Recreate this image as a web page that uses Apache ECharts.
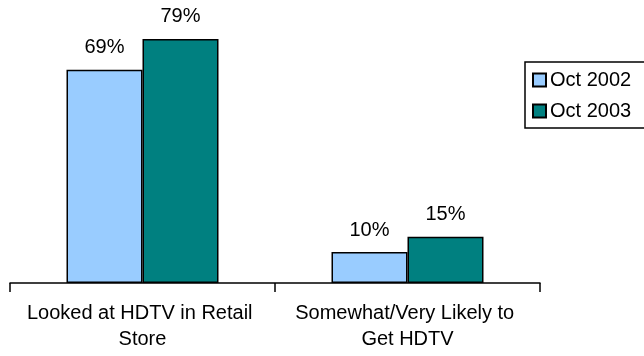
<!DOCTYPE html>
<html><head><meta charset="utf-8">
<script src="https://cdn.jsdelivr.net/npm/echarts@6/dist/echarts.min.js"></script>
<style>html,body{margin:0;padding:0;background:#fff}#c{width:644px;height:356px}</style>
</head><body><div id="c"></div>
<script>
var categories = ["Looked at HDTV in Retail Store", "Somewhat/Very Likely to Get HDTV"];
var seriesNames = ["Oct 2002", "Oct 2003"];
var oct2002 = [69, 10];
var oct2003 = [79, 15];
var colors = ["#99CCFF", "#008080"];

var FONT = "'Liberation Sans', Arial, sans-serif";
var chart = echarts.init(document.getElementById('c'));
var label = {show: true, position: 'top', distance: 12, formatter: '{c}%', color: '#000', fontSize: 20, fontFamily: FONT};
chart.setOption({
  animation: false,
  textStyle: {fontFamily: FONT},
  grid: {left: 10, right: 104, top: 5, bottom: 73},
  legend: {
    orient: 'vertical', left: 525, top: 62,
    data: seriesNames,
    icon: 'rect', itemWidth: 13, itemHeight: 13, itemGap: 11,
    padding: [8, 40, 7, 7],
    borderColor: '#000', borderWidth: 1.5,
    textStyle: {fontSize: 20, color: '#000', fontFamily: FONT, padding: [0, 0, 0, -1]}
  },
  xAxis: {
    type: 'category', data: categories,
    axisLine: {lineStyle: {color: '#000', width: 1.5}},
    axisTick: {show: true, length: 9, lineStyle: {color: '#000', width: 1.5}},
    axisLabel: {fontSize: 20, color: '#000', fontFamily: FONT, margin: 17, lineHeight: 26, width: 250, overflow: 'break', interval: 0}
  },
  yAxis: {type: 'value', min: 0, max: 90, show: false, splitLine: {show: false}},
  series: [
    {name: seriesNames[0], type: 'bar', data: oct2002, barWidth: 76, barGap: '0%',
     itemStyle: {color: colors[0], borderColor: '#000', borderWidth: 1.5}, label: label},
    {name: seriesNames[1], type: 'bar', data: oct2003, barWidth: 76, barGap: '0%',
     itemStyle: {color: colors[1], borderColor: '#000', borderWidth: 1.5}, label: label}
  ]
});
</script></body></html>
